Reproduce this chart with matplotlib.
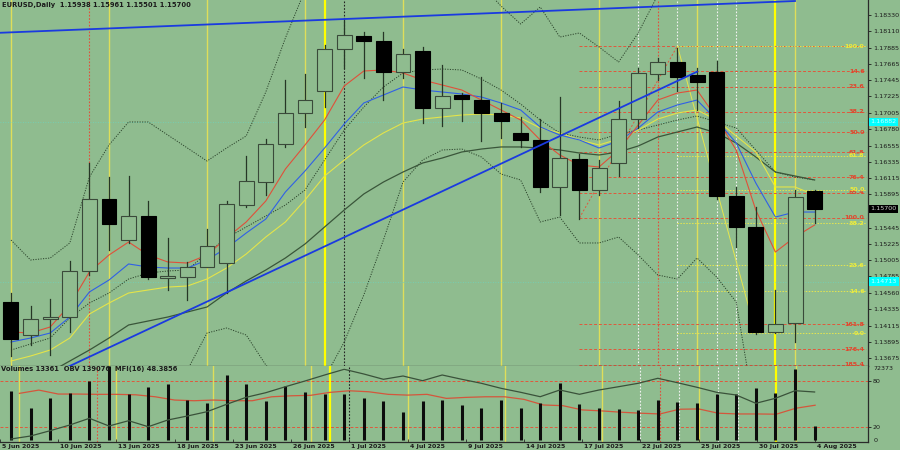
import matplotlib
matplotlib.use("Agg")
import matplotlib.pyplot as plt
import matplotlib.transforms as mtrans
from matplotlib.patches import Rectangle

# ─── Data (EURUSD daily) ──────────────────────────────────────────────────────

opens = [1.14431, 1.13983, 1.14208, 1.14235, 1.14856, 1.15833, 1.15272, 1.15606, 1.14767, 1.14778,
         1.14914, 1.14960, 1.15751, 1.16064, 1.16579, 1.16996, 1.17299, 1.17865, 1.18049, 1.17977,
         1.17561, 1.17842, 1.17072, 1.17244, 1.17176, 1.16996, 1.16725, 1.16634, 1.16000, 1.16372,
         1.15955, 1.16317, 1.16919, 1.17529, 1.17688, 1.17516, 1.17561, 1.15878, 1.15449, 1.14032,
         1.14146, 1.15938]
highs = [1.14561, 1.14381, 1.14476, 1.14991, 1.16321, 1.16131, 1.16145, 1.15806, 1.15304, 1.14982,
         1.15426, 1.15806, 1.16417, 1.16647, 1.17448, 1.17529, 1.17923, 1.18289, 1.18099, 1.18099,
         1.17869, 1.17900, 1.17651, 1.17275, 1.17493, 1.17132, 1.16950, 1.16919, 1.17221, 1.16439,
         1.16362, 1.17167, 1.17606, 1.17751, 1.17886, 1.17606, 1.17706, 1.15992, 1.15720, 1.14598,
         1.15955, 1.15961]
lows = [1.13702, 1.13852, 1.13716, 1.14032, 1.14801, 1.15141, 1.15236, 1.14743, 1.14598, 1.14462,
        1.14910, 1.14553, 1.15723, 1.15887, 1.16539, 1.16814, 1.17086, 1.17607, 1.17471, 1.17176,
        1.17475, 1.16868, 1.16824, 1.16896, 1.16624, 1.16657, 1.16543, 1.15932, 1.15616, 1.15561,
        1.15887, 1.16145, 1.16792, 1.17448, 1.17299, 1.17041, 1.15833, 1.15186, 1.13997, 1.14010,
        1.13896, 1.15501]
closes = [1.13929, 1.14200, 1.14235, 1.14860, 1.15833, 1.15494, 1.15602, 1.14778, 1.14788, 1.14914,
          1.15199, 1.15761, 1.16077, 1.16579, 1.17000, 1.17176, 1.17865, 1.18055, 1.17981, 1.17561,
          1.17797, 1.17072, 1.17235, 1.17190, 1.16996, 1.16896, 1.16634, 1.16000, 1.16385, 1.15955,
          1.16250, 1.16923, 1.17539, 1.17696, 1.17493, 1.17425, 1.15878, 1.15457, 1.14032, 1.14132,
          1.15856, 1.15700]

ma_red = [1.14028, 1.14014, 1.14096, 1.14394, 1.14842, 1.15073, 1.15249, 1.15073, 1.14978, 1.14964,
          1.15073, 1.15304, 1.15521, 1.15806, 1.16240, 1.16566, 1.16905, 1.17366, 1.17570, 1.17584,
          1.17543, 1.17448, 1.17380, 1.17312, 1.17176, 1.17041, 1.16905, 1.16634, 1.16430, 1.16294,
          1.16267, 1.16498, 1.16837, 1.17176, 1.17271, 1.17312, 1.16932, 1.16498, 1.15683, 1.15113,
          1.15317, 1.15480]
ma_blue = [1.13892, 1.13946, 1.14014, 1.14231, 1.14571, 1.14733, 1.14951, 1.14910, 1.14896, 1.14896,
           1.15005, 1.15168, 1.15371, 1.15561, 1.15928, 1.16213, 1.16525, 1.16851, 1.17136, 1.17244,
           1.17353, 1.17312, 1.17285, 1.17258, 1.17217, 1.17136, 1.17041, 1.16810, 1.16701, 1.16634,
           1.16525, 1.16620, 1.16796, 1.17014, 1.17109, 1.17176, 1.16905, 1.16593, 1.16050, 1.15588,
           1.15656, 1.15656]
ma_yellow = [1.13634, 1.13702, 1.13783, 1.13946, 1.14272, 1.14421, 1.14557, 1.14598, 1.14638, 1.14652,
             1.14747, 1.14896, 1.15086, 1.15317, 1.15521, 1.15819, 1.16145, 1.16362, 1.16566, 1.16729,
             1.16864, 1.16918, 1.16946, 1.16973, 1.16986, 1.16973, 1.16932, 1.16796, 1.16729, 1.16634,
             1.16566, 1.16647, 1.16769, 1.16918, 1.17000, 1.17041, 1.16905, 1.16688, 1.16471, 1.15996,
             1.15996, 1.15887]
ma_slow = [1.13241, 1.13376, 1.13485, 1.13634, 1.13783, 1.13946, 1.14123, 1.14177, 1.14231, 1.14299,
           1.14367, 1.14557, 1.14720, 1.14869, 1.15032, 1.15222, 1.15453, 1.15683, 1.15901, 1.16063,
           1.16199, 1.16321, 1.16389, 1.16471, 1.16511, 1.16539, 1.16539, 1.16525, 1.16498, 1.16457,
           1.16430, 1.16471, 1.16552, 1.16674, 1.16742, 1.16810, 1.16729, 1.16593, 1.16403, 1.16199,
           1.16145, 1.16091]
bb_mid = [1.13783, 1.13865, 1.13946, 1.14218, 1.14421, 1.14557, 1.14747, 1.14828, 1.14856, 1.14869,
          1.15100, 1.15304, 1.15453, 1.15602, 1.15751, 1.15955, 1.16362, 1.16769, 1.17081, 1.17353,
          1.17543, 1.17584, 1.17597, 1.17584, 1.17461, 1.17312, 1.17122, 1.16905, 1.16729, 1.16674,
          1.16634, 1.16715, 1.16769, 1.16837, 1.16905, 1.16959, 1.16878, 1.16796, 1.16498, 1.16199,
          1.16131, 1.16091]
bb_up = [1.15276, 1.15005, 1.15032, 1.15236, 1.16131, 1.16566, 1.16878, 1.16878, 1.16701, 1.16525,
         1.16348, 1.16525, 1.16688, 1.17285, 1.18018, 1.18669, 1.19076, 1.19348, 1.19484, 1.19484,
         1.19348, 1.19212, 1.19076, 1.18941, 1.18737, 1.18452, 1.18208, 1.18439, 1.18031, 1.18086,
         1.17896, 1.17692, 1.18086, 1.18601, 1.18941, 1.18941, 1.18805, 1.19076, 1.19619, 1.19755,
         1.19619, 1.19484]
bb_low = [1.12833, 1.12969, 1.13105, 1.13173, 1.12833, 1.12562, 1.12698, 1.12833, 1.13105, 1.13512,
          1.14014, 1.14082, 1.13987, 1.13580, 1.13308, 1.13105, 1.13403, 1.13892, 1.14530, 1.15276,
          1.16063, 1.16362, 1.16498, 1.16511, 1.16403, 1.16172, 1.16091, 1.15521, 1.15588, 1.15236,
          1.15236, 1.15317, 1.15073, 1.14801, 1.14747, 1.15032, 1.14774, 1.14435, 1.12833, 1.12290,
          1.12155, 1.12155]

volumes = [48215, 31003, 40783, 45673, 57995, 72373, 44988, 52127, 54768, 39120,
           36479, 63570, 54768, 37849, 52812, 47237, 44695, 44695, 40783, 38435,
           27091, 37849, 39120, 33937, 31296, 39120, 31296, 36479, 55453, 35208,
           31589, 30318, 29047, 38827, 36871, 36479, 44988, 44695, 50563, 45673,
           69500, 13361]
obv = [-246324, -221724, -178264, -131524, -76584, -139724, -96264, -145464, -90524, -57724,
       -22464, 38216, 95616, 133336, 182536, 229276, 278476, 325216, 286676, 243216,
       270276, 231736, 278476, 243216, 210416, 169416, 136616, 100536, 155476, 120216,
       155476, 182536, 210416, 251416, 215336, 177616, 136616, 114476, 46416, 87416,
       149736, 139076]
mfi = [64.0, 68.3, 63.1, 63.1, 62.7, 62.7, 62.1, 59.5, 55.2, 54.3,
       55.2, 54.3, 54.3, 59.5, 60.8, 61.4, 65.3, 67.4, 66.1, 62.7,
       61.7, 62.7, 57.4, 58.7, 59.5, 59.5, 56.1, 48.7, 47.8, 42.2,
       40.9, 39.2, 37.9, 36.9, 43.1, 43.5, 37.9, 36.9, 36.9, 36.6,
       44.4, 48.39]

date_bars = [-1, 2, 5, 8, 11, 14, 17, 20, 23, 26, 29, 32, 35, 38, 41]
date_labels = ["5 Jun 2025", "10 Jun 2025", "13 Jun 2025", "18 Jun 2025", "23 Jun 2025",
               "26 Jun 2025", "1 Jul 2025", "4 Jul 2025", "9 Jul 2025", "14 Jul 2025",
               "17 Jul 2025", "22 Jul 2025", "25 Jul 2025", "30 Jul 2025", "4 Aug 2025"]

price_ticks = [1.18330, 1.18110, 1.17885, 1.17665, 1.17445, 1.17225, 1.17005, 1.16780, 1.16555,
               1.16335, 1.16115, 1.15895, 1.15445, 1.15225, 1.15005, 1.14785, 1.14560, 1.14335,
               1.14115, 1.13895, 1.13675]
last_price = 1.15700
cyan_levels = [1.16882, 1.14713]

# trendlines: (bar, price) anchors
trend_top = [(-20, 1.17882), (40, 1.18520)]
trend_up = [(0, 1.13192), (35, 1.17560)]

# fibonacci objects
fib_red = dict(start=29, low=1.15575, high=1.17909, end_bar=34,
               levels=[0.0, 14.6, 23.6, 38.2, 50.0, 61.8, 76.4, 85.4, 100.0, 161.8, 176.4, 185.4])
fib_yel = dict(start=34, high=1.17909, low=1.14014, end_bar=38,
               levels=[0.0, 14.6, 23.6, 38.2, 50.0, 61.8, 100.0])

# vertical lines (bar index)
vl_yellow = [0, 5, 10, 15, 20, 25, 30, 35, 40]
vl_bright = [16, 39]
vl_red = [4, 33]
vl_white = [32, 34, 36, 37]
vl_black = [17]

# ─── Styling ──────────────────────────────────────────────────────────────────

BG = "#8fbc8f"
TXT = "#1c1c1c"
XLIM = (-0.561, 43.724)
YLIM = (1.135663, 1.185336)
n = len(opens)
xs = list(range(n))

fig = plt.figure(figsize=(9, 4.5), dpi=100, facecolor=BG)
ax = fig.add_axes([0, 84 / 450, 868 / 900, 366 / 450], facecolor=BG)
axl = fig.add_axes([0, 8 / 450, 868 / 900, 76 / 450], facecolor=BG)
axv = fig.add_axes([0, 8 / 450, 868 / 900, 76 / 450], facecolor="none")
axo = fig.add_axes([0, 8 / 450, 868 / 900, 76 / 450], facecolor="none")

for a in (ax, axl, axv, axo):
    a.set_xlim(*XLIM)
axv.axis("off")
axo.axis("off")
ax.set_ylim(*YLIM)
axl.set_ylim(0, 100)
axv.set_ylim(-1956, 72373)
axo.set_ylim(-270924, 352276)

def vlines(a):
    for b in vl_yellow:
        a.axvline(b, color="#dede5a", lw=1.0, zorder=1)
    for b in vl_bright:
        a.axvline(b, color="#ffff00", lw=1.6, zorder=1)
    for b in vl_red:
        a.axvline(b, color="#e0503c", lw=0.8, ls=(0, (1.5, 1.5)), zorder=1)
    for b in vl_white:
        a.axvline(b, color="#f2f2f2", lw=0.8, ls=(0, (1.5, 1.5)), zorder=1)
    for b in vl_black:
        a.axvline(b, color="#222222", lw=0.8, ls=(0, (1.5, 1.5)), zorder=1)

vlines(ax)
vlines(axl)

for lv in cyan_levels:
    ax.axhline(lv, color="#6fd4bc", lw=0.6, ls=(0, (1, 2)), zorder=1)

# fibonacci
XEND = 43.6
rng = fib_red["high"] - fib_red["low"]
for lv in fib_red["levels"]:
    p = fib_red["high"] - lv / 100 * rng
    ax.plot([fib_red["start"], XEND], [p, p], color="#e0583c", lw=0.7, ls=(0, (3, 2)), zorder=2)
    if lv > 0:
        ax.text(43.55, p, f"{lv:.1f}", color="#e2452c", fontsize=4.6, ha="right", va="center",
                zorder=6, fontweight="bold")
ax.plot([fib_red["start"], fib_red["end_bar"]], [fib_red["low"], fib_red["high"]],
        color="#e0583c", lw=0.7, ls=(0, (2, 2)), zorder=2)

rng = fib_yel["high"] - fib_yel["low"]
for lv in fib_yel["levels"]:
    p = fib_yel["low"] + lv / 100 * rng
    ax.plot([fib_yel["start"], XEND], [p, p], color="#e6e64e", lw=0.7, ls=(0, (1.5, 1.5)), zorder=2)
    ax.text(43.55, p, f"{lv:.1f}", color="#ecec3c", fontsize=4.6, ha="right", va="center",
            zorder=6, fontweight="bold")
ax.plot([fib_yel["start"], fib_yel["end_bar"]], [fib_yel["high"], fib_yel["low"]],
        color="#e6e64e", lw=0.7, zorder=2)

# indicators
dot = (0, (1.2, 1.4))
for band in (bb_up, bb_mid, bb_low):
    ax.plot(xs, band, color="#2c442c", lw=0.7, ls=dot, zorder=3)
ax.plot(xs, ma_slow, color="#3a563a", lw=0.9, zorder=3)
ax.plot(xs, ma_yellow, color="#e4e44a", lw=0.8, zorder=3)
ax.plot(xs, ma_blue, color="#3060e6", lw=0.8, zorder=3)
ax.plot(xs, ma_red, color="#e0503a", lw=0.8, zorder=3)

# candles
w = 0.765
for i in xs:
    o, h, l, c = opens[i], highs[i], lows[i], closes[i]
    ax.plot([i, i], [l, h], color="#263626", lw=0.9, zorder=4)
    bull = c >= o
    ax.add_patch(Rectangle((i - w / 2, min(o, c)), w, max(abs(c - o), 0.00003),
                           facecolor=BG if bull else "black",
                           edgecolor="#3a4a3a" if bull else "black", lw=0.8, zorder=5))

# trendlines
for tl in (trend_top, trend_up):
    ax.plot([tl[0][0], tl[1][0]], [tl[0][1], tl[1][1]], color="#1a3ae0", lw=1.3, zorder=6)

# axes look
for a in (ax, axl):
    for s in ("left", "top"):
        a.spines[s].set_visible(False)
    for s in ("right", "bottom"):
        a.spines[s].set_color("#2a2a2a")
        a.spines[s].set_linewidth(0.9)
    a.yaxis.tick_right()
ax.set_xticks([])
ax.set_yticks(price_ticks)
ax.set_yticklabels([f"{p:.5f}" for p in price_ticks])
ax.tick_params(axis="y", length=2, width=0.6, pad=1.5, labelsize=4.6, colors=TXT)

blend = mtrans.blended_transform_factory(ax.transAxes, ax.transData)
ax.text(1.003, last_price, f"{last_price:.5f}", transform=blend, fontsize=4.6, color="#cfcfcf",
        va="center", ha="left", clip_on=False, zorder=10,
        bbox=dict(boxstyle="square,pad=0.25", fc="black", ec="none"))
for lv in cyan_levels:
    ax.text(1.003, lv, f"{lv:.5f}", transform=blend, fontsize=4.6, color="#c8ffff",
            va="center", ha="left", clip_on=False, zorder=10,
            bbox=dict(boxstyle="square,pad=0.25", fc="#00ffff", ec="none"))

# lower panel
axl.axhline(80, color="#e0583c", lw=0.7, ls=(0, (3, 2)), zorder=1)
axl.axhline(20, color="#e0583c", lw=0.7, ls=(0, (3, 2)), zorder=1)
axv.vlines(xs, 0, volumes, color="#0c0c0c", lw=2.2, zorder=3)
axo.plot(xs, obv, color="#3a523a", lw=0.9, zorder=4)
axl.plot(xs, mfi, color="#d4563c", lw=0.9, zorder=2)

axl.set_yticks([20, 80])
axl.set_yticklabels(["20", "80"])
axl.tick_params(axis="y", length=2, width=0.6, pad=1.5, labelsize=4.6, colors=TXT)
bl = mtrans.blended_transform_factory(axv.transAxes, axv.transData)
axv.text(1.006, 72373, "72373", transform=bl, fontsize=4.6, color=TXT, va="top", ha="left", clip_on=False)
axv.text(1.006, 0, "0", transform=bl, fontsize=4.6, color=TXT, va="center", ha="left", clip_on=False)

axl.set_xticks(date_bars)
axl.set_xticklabels([])
axl.tick_params(axis="x", length=2, width=0.6, colors="#2a2a2a", direction="in")
bx = mtrans.blended_transform_factory(axl.transData, axl.transAxes)
for b, lab in zip(date_bars, date_labels):
    axl.text(b + 0.1, -0.06, lab, transform=bx, fontsize=4.5, color=TXT, va="center", ha="left",
             clip_on=False, fontweight="bold")

fig.text(2 / 900, 1 - 2 / 450, "EURUSD,Daily  1.15938 1.15961 1.15501 1.15700",
         fontsize=4.9, color=TXT, va="top", ha="left", fontweight="bold")
fig.text(1 / 900, 1 - 369 / 450, "Volumes 13361  OBV 139076  MFI(16) 48.3856",
         fontsize=4.9, color=TXT, va="center", ha="left", fontweight="bold")

fig.savefig("out.png", dpi=100, facecolor=BG)
